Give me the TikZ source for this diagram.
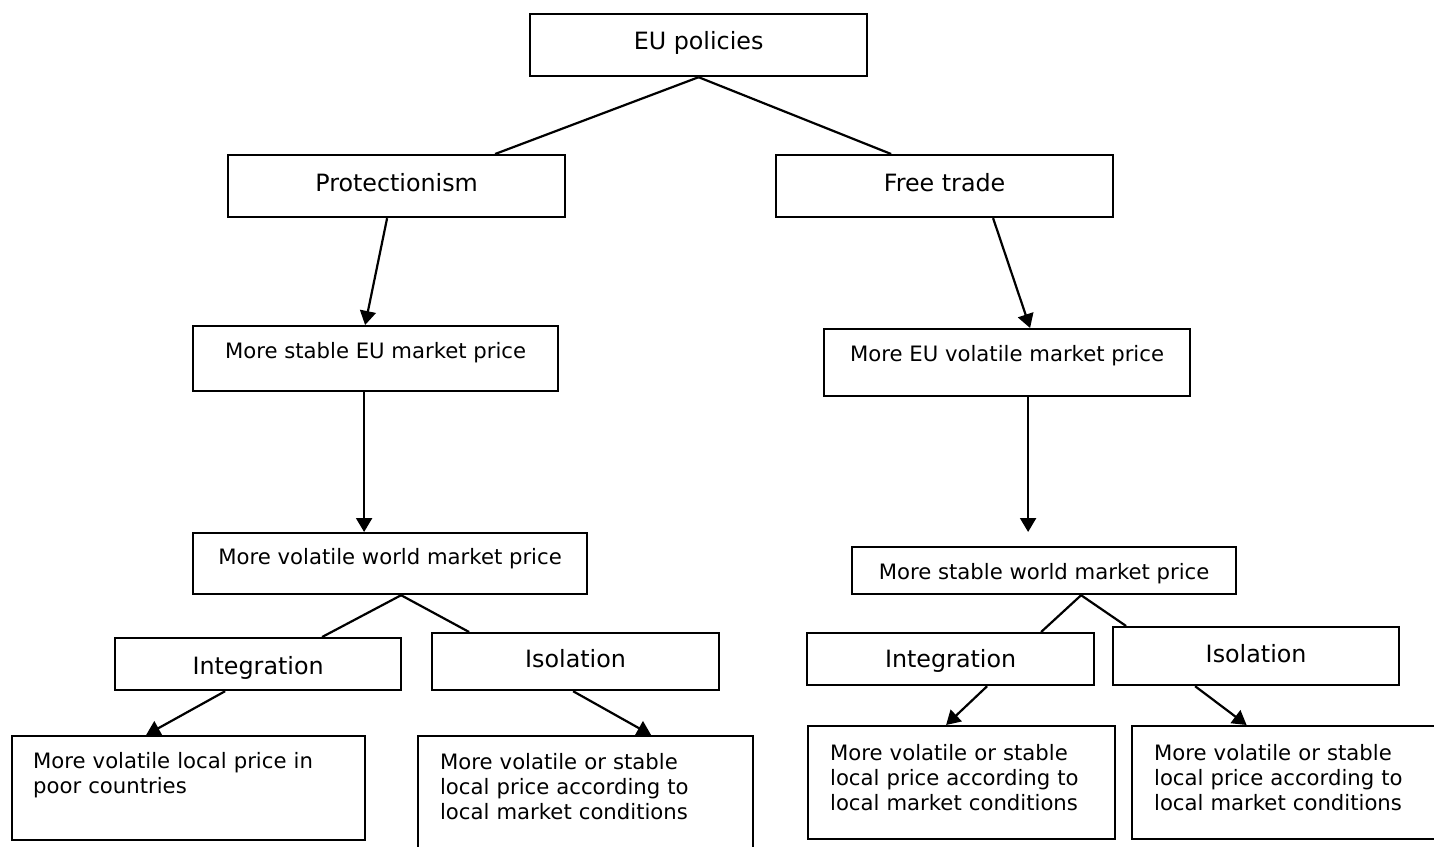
\documentclass[tikz,border=0pt]{standalone}
\usepackage{fontspec}
\setmainfont{DejaVu Sans}
\usetikzlibrary{arrows.meta}

\begin{document}
\begin{tikzpicture}[x=1pt, y=-1pt, line width=2.2pt,
  font=\fontsize{21.2}{25}\selectfont,
  box/.style={draw, inner sep=0pt, anchor=north west},
  head/.style={font=\fontsize{23.8}{26}\selectfont},
  note/.style={align=left, inner xsep=22pt},
  arr/.style={-{Triangle[length=14pt,width=16pt]}}]
\useasboundingbox (0,0) rectangle (1434,846);
% policies
\node[box, head, minimum width=337pt, text height=35pt, text depth=27pt] (eu) at (529,13) {EU policies};
\node[box, head, minimum width=337pt, text height=36pt, text depth=26pt] (prot) at (227,154) {Protectionism};
\node[box, head, minimum width=337pt, text height=36pt, text depth=26pt] (free) at (775,154) {Free trade};
\draw (eu.south) -- ([xshift=98.5pt]prot.north);
\draw (eu.south) -- ([xshift=-53.5pt]free.north);
% EU and world prices
\node[box, minimum width=365pt, text height=32pt, text depth=33pt] (seu) at (192,325) {More stable EU market price};
\node[box, minimum width=366pt, text height=32pt, text depth=35pt] (veu) at (823,328) {More EU volatile market price};
\node[box, minimum width=394pt, text height=31pt, text depth=30pt] (vworld) at (192,532) {More volatile world market price};
\node[box, minimum width=384pt, text height=32pt, text depth=15pt] (sworld) at (851,546) {More stable world market price};
\draw[arr] ([xshift=-9.5pt]prot.south) -- ([xshift=-10.5pt]seu.north);
\draw[arr] ([xshift=-11.5pt]seu.south) -- ([xshift=-26pt]vworld.north);
\draw[arr] ([xshift=48.5pt]free.south) -- ([xshift=23pt]veu.north);
\draw[arr, shorten >=14pt] ([xshift=21pt]veu.south) -- ([xshift=-16pt]sworld.north);
% integration / isolation
\node[box, head, minimum width=286pt, text height=36pt, text depth=16pt] (intl) at (114,637) {Integration};
\node[box, head, minimum width=287pt, text height=34pt, text depth=23pt] (isol) at (431,632) {Isolation};
\node[box, head, minimum width=287pt, text height=34pt, text depth=18pt] (intr) at (806,632) {Integration};
\node[box, head, minimum width=286pt, text height=35pt, text depth=23pt] (isor) at (1112,626) {Isolation};
\draw ([xshift=11pt]vworld.south) -- ([xshift=64pt]intl.north);
\draw ([xshift=11pt]vworld.south) -- ([xshift=-106.5pt]isol.north);
\draw ([xshift=37pt]sworld.south) -- ([xshift=90.5pt]intr.north);
\draw ([xshift=37pt]sworld.south) -- ([xshift=-130pt]isor.north);
% local prices
\node[box, note, inner xsep=21pt, text width=311pt, text height=32pt, text depth=72pt] (locl) at (11,735) {More volatile local price in\\poor countries};
\node[box, note, text width=291pt, text height=33pt, text depth=84pt] (locm) at (417,735) {More volatile or stable\\local price according to\\local market conditions};
\node[box, note, text width=263pt, text height=34pt, text depth=79pt] (locra) at (807,725) {More volatile or stable\\local price according to\\local market conditions};
\node[box, note, text width=268pt, text height=34pt, text depth=79pt] (locrb) at (1131,725) {More volatile or stable\\local price according to\\local market conditions};
\draw[arr] ([xshift=-33pt]intl.south) -- ([xshift=-42.5pt]locl.north);
\draw[arr] ([xshift=-2.5pt]isol.south) -- ([xshift=65.5pt]locm.north);
\draw[arr] ([xshift=36.5pt]intr.south) -- ([xshift=-15.5pt]locra.north);
\draw[arr] ([xshift=-61pt]isor.south) -- ([xshift=-41.5pt]locrb.north);
\end{tikzpicture}
\end{document}
